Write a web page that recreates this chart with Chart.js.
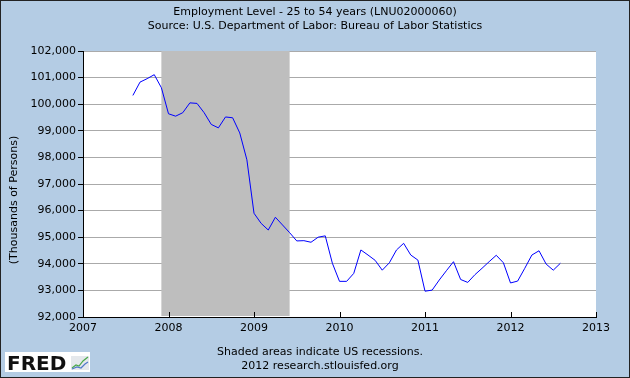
<!DOCTYPE html>
<html>
<head>
<meta charset="utf-8">
<script src="https://cdn.jsdelivr.net/npm/chart.js@4/dist/chart.umd.min.js"></script>
<style>
  body { margin: 0; background: #b4cce4; }
  canvas { display: block; }
</style>
</head>
<body>
<canvas id="empChart" width="630" height="378"></canvas>
<script>
// Employment Level - 25 to 54 years, monthly, Aug 2007 - Aug 2012 (thousands of persons)
const months = [
  '2007-08', '2007-09', '2007-10', '2007-11', '2007-12',
  '2008-01', '2008-02', '2008-03', '2008-04', '2008-05', '2008-06', '2008-07', '2008-08', '2008-09', '2008-10', '2008-11', '2008-12',
  '2009-01', '2009-02', '2009-03', '2009-04', '2009-05', '2009-06', '2009-07', '2009-08', '2009-09', '2009-10', '2009-11', '2009-12',
  '2010-01', '2010-02', '2010-03', '2010-04', '2010-05', '2010-06', '2010-07', '2010-08', '2010-09', '2010-10', '2010-11', '2010-12',
  '2011-01', '2011-02', '2011-03', '2011-04', '2011-05', '2011-06', '2011-07', '2011-08', '2011-09', '2011-10', '2011-11', '2011-12',
  '2012-01', '2012-02', '2012-03', '2012-04', '2012-05', '2012-06', '2012-07', '2012-08'
];
const employment = [
  100330, 100830, 100960, 101110, 100620,
  99640, 99550, 99680, 100050, 100030, 99680, 99240, 99110, 99520, 99490, 98920, 97910,
  95900, 95520, 95270, 95750, 95460, 95170, 94860, 94870, 94810, 95000, 95050, 94020,
  93340, 93340, 93640, 94520, 94330, 94130, 93760, 94040, 94520, 94770, 94330, 94140,
  92970, 93010, 93390, 93740, 94080, 93410, 93300, 93590, 93830, 94080, 94320, 94040,
  93280, 93350, 93830, 94330, 94490, 93990, 93760, 94020
];
// recession (NBER) Dec 2007 - Jun 2009
const recessions = [['2007-12', '2009-06']];
const yTicks = { min: 92000, max: 102000, step: 1000 };
const xTicks = { min: 2007, max: 2013, step: 1 };

const titleLines = [
  'Employment Level - 25 to 54 years (LNU02000060)',
  'Source: U.S. Department of Labor: Bureau of Labor Statistics'
];
const footLines = ['Shaded areas indicate US recessions.', '2012 research.stlouisfed.org'];
const yTitle = '(Thousands of Persons)';

function toYear(s) {
  const parts = s.split('-');
  return Number(parts[0]) + (Number(parts[1]) - 1) / 12;
}

const points = months.map((m, i) => ({ x: toYear(m), y: employment[i] }));
const FONT = '"DejaVu Sans", Verdana, sans-serif';

// background, plot area, recession bars, texts, FRED logo
const fredDecor = {
  id: 'fredDecor',
  beforeDraw(chart) {
    const ctx = chart.ctx, a = chart.chartArea;
    ctx.save();
    ctx.fillStyle = '#b4cce4';
    ctx.fillRect(0, 0, chart.width, chart.height);
    ctx.fillStyle = '#ffffff';
    ctx.fillRect(a.left, a.top, a.right - a.left, a.bottom - a.top);
    ctx.restore();
  },
  beforeDatasetsDraw(chart) {
    const ctx = chart.ctx, a = chart.chartArea, xs = chart.scales.x;
    ctx.save();
    ctx.fillStyle = '#bebebe';
    recessions.forEach(r => {
      const x0 = xs.getPixelForValue(toYear(r[0]));
      const x1 = xs.getPixelForValue(toYear(r[1]));
      ctx.fillRect(x0, a.top, x1 - x0, a.bottom - a.top - 1);
    });
    ctx.restore();
  },
  afterDraw(chart) {
    const ctx = chart.ctx, a = chart.chartArea, xs = chart.scales.x;
    ctx.save();
    // x tick marks pointing into the plot
    ctx.strokeStyle = '#000';
    ctx.lineWidth = 1;
    xs.ticks.forEach(t => {
      if (t.value === xTicks.min) return;
      const px = Math.round(xs.getPixelForValue(t.value)) + 0.5;
      ctx.beginPath();
      ctx.moveTo(px, a.bottom);
      ctx.lineTo(px, a.bottom - 5);
      ctx.stroke();
    });
    // texts
    ctx.fillStyle = '#000';
    ctx.textAlign = 'center';
    ctx.textBaseline = 'middle';
    ctx.font = '11px ' + FONT;
    ctx.fillText(titleLines[0], 315, 12);
    ctx.fillText(titleLines[1], 315, 26);
    ctx.fillText(footLines[0], 320, 352);
    ctx.fillText(footLines[1], 320, 366);
    ctx.save();
    ctx.translate(14, 200);
    ctx.rotate(-Math.PI / 2);
    ctx.fillText(yTitle, 0, 0);
    ctx.restore();
    // FRED logo
    ctx.fillStyle = '#ffffff';
    ctx.fillRect(5, 352, 85, 20);
    ctx.fillStyle = '#111';
    ctx.textAlign = 'left';
    ctx.textBaseline = 'alphabetic';
    ctx.font = 'bold 20px ' + FONT;
    ctx.fillText('FRED', 7, 370);
    ctx.fillStyle = '#e4e8ec';
    ctx.fillRect(71, 356, 18, 14);
    ctx.lineWidth = 1.2;
    ctx.strokeStyle = '#4aa84a';
    ctx.beginPath();
    ctx.moveTo(72, 368); ctx.lineTo(76, 365); ctx.lineTo(79, 366); ctx.lineTo(83, 361); ctx.lineTo(88, 357);
    ctx.stroke();
    ctx.strokeStyle = '#5078c8';
    ctx.beginPath();
    ctx.moveTo(72, 369); ctx.lineTo(77, 367); ctx.lineTo(81, 368); ctx.lineTo(85, 364); ctx.lineTo(88, 362);
    ctx.stroke();
    // frame
    ctx.strokeStyle = '#222';
    ctx.lineWidth = 1;
    ctx.strokeRect(0.5, 0.5, chart.width - 1, chart.height - 1);
    ctx.restore();
  }
};

const ctx = document.getElementById('empChart').getContext('2d');
const empChart = new Chart(ctx, {
  type: 'line',
  data: {
    datasets: [{
      data: points,
      borderColor: '#0000ff',
      borderWidth: 1,
      pointRadius: 0,
      fill: false,
      tension: 0
    }]
  },
  options: {
    responsive: false,
    animation: false,
    layout: { padding: { left: 0, right: 34, top: 51, bottom: 41 } },
    plugins: { legend: { display: false }, tooltip: { enabled: false } },
    scales: {
      x: {
        type: 'linear',
        min: xTicks.min,
        max: xTicks.max,
        afterFit: s => { s.height = 20; },
        grid: { drawOnChartArea: false, drawTicks: false },
        border: { color: '#000', width: 1 },
        ticks: {
          stepSize: xTicks.step,
          padding: 5,
          color: '#000',
          font: { family: FONT, size: 11 },
          maxRotation: 0,
          callback: v => String(v)
        }
      },
      y: {
        min: yTicks.min,
        max: yTicks.max,
        afterFit: s => { s.width = 83; },
        grid: { color: '#aaaaaa', tickColor: '#000', tickLength: 5, lineWidth: 1 },
        border: { color: '#000', width: 1 },
        ticks: {
          stepSize: yTicks.step,
          padding: 2,
          color: '#000',
          font: { family: FONT, size: 11 },
          callback: v => v.toLocaleString('en-US')
        }
      }
    }
  },
  plugins: [fredDecor]
});
</script>
</body>
</html>
